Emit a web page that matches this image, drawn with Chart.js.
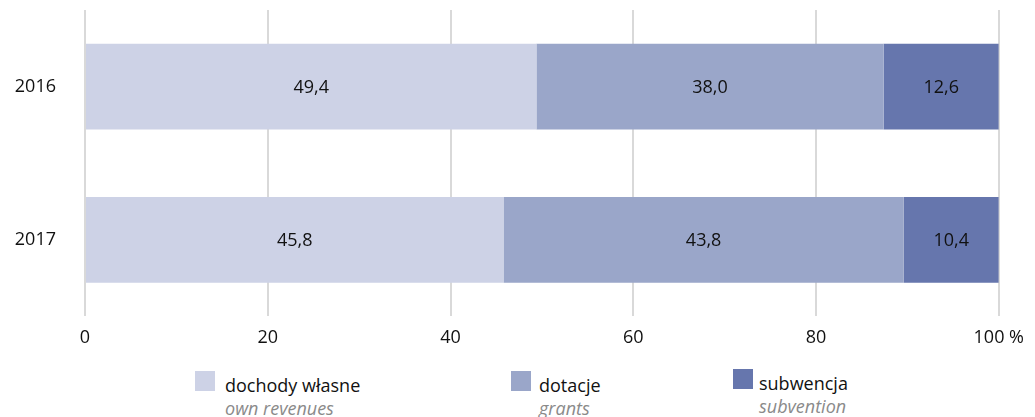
<!DOCTYPE html>
<html>
<head>
<meta charset="utf-8">
<script src="https://cdn.jsdelivr.net/npm/chart.js@4"></script>
<style>
  body { margin: 0; background: #fff; font-family: "Open Sans", sans-serif; }
  #wrap { position: relative; width: 1035px; height: 417px; }
  #chartBox { position: absolute; left: 0; top: 0; width: 1035px; height: 360px; }
  .leg { position: absolute; font-size: 18px; color: #111; line-height: 20px; }
  .leg .sw { position: absolute; left: 0; top: 0; width: 20px; height: 20px; }
  .leg .t { position: absolute; top: 4px; white-space: nowrap; }
  .leg .e { position: absolute; top: 27px; white-space: nowrap; font-style: italic; color: #8a8a8a; }
</style>
</head>
<body>
<div id="wrap">
  <div id="chartBox"><canvas id="bars"></canvas></div>
  <div id="legend"></div>
</div>
<script>
const years = ['2016', '2017']
const ownRevenues = [49.4, 45.8]
const grants = [38.0, 43.8]
const subvention = [12.6, 10.4]
const seriesNames = ['dochody własne', 'dotacje', 'subwencja']
const seriesNamesEn = ['own revenues', 'grants', 'subvention']
const seriesColors = ['#cdd2e6', '#9aa6c9', '#6676ad']
const xTicks = [0, 20, 40, 60, 80, 100]

// legend built by hand, the original has two-language entries
const legendPos = [[195, 371, 30], [511, 371, 28], [733, 369, 26]]
let legendHtml = ''
for (let i = 0; i < seriesNames.length; i++) {
  const [lx, ly, off] = legendPos[i]
  legendHtml += `<div class="leg" style="left:${lx}px;top:${ly}px">
    <div class="sw" style="background:${seriesColors[i]}"></div>
    <div class="t" style="left:${off}px">${seriesNames[i]}</div>
    <div class="e" style="left:${off}px">${seriesNamesEn[i]}</div>
  </div>`
}
document.getElementById('legend').innerHTML = legendHtml

const valueLabels = {
  id: 'valueLabels',
  afterDatasetsDraw(chart) {
    const ctx = chart.ctx
    ctx.save()
    ctx.font = '18px "Open Sans"'
    ctx.fillStyle = '#111'
    ctx.textAlign = 'center'
    ctx.textBaseline = 'middle'
    chart.data.datasets.forEach((ds, i) => {
      chart.getDatasetMeta(i).data.forEach((bar, j) => {
        const p = bar.getProps(['x', 'y', 'base'], true)
        ctx.fillText(ds.data[j].toFixed(1).replace('.', ','), (p.x + p.base) / 2, p.y + 1)
      })
    })
    ctx.restore()
  }
}

const barData = {
  labels: years,
  datasets: [ownRevenues, grants, subvention].map((d, i) => ({
    label: seriesNames[i],
    data: d,
    backgroundColor: seriesColors[i],
    borderWidth: 0,
    barPercentage: 0.56,
    categoryPercentage: 1
  }))
}

new Chart(document.getElementById('bars'), {
  type: 'bar',
  data: barData,
  options: {
    indexAxis: 'y',
    responsive: true,
    maintainAspectRatio: false,
    animation: false,
    layout: { padding: { top: 10, right: 36, bottom: 0, left: 0 } },
    scales: {
      x: {
        stacked: true,
        min: 0,
        max: 100,
        afterBuildTicks: (axis) => { axis.ticks = xTicks.map(v => ({ value: v })) },
        grid: { color: '#d9d9d9', lineWidth: 2, drawTicks: false },
        border: { display: false },
        ticks: {
          padding: 11,
          color: '#111',
          font: { family: 'Open Sans', size: 18 },
          callback: (v) => v == 100 ? '100 %' : v
        }
      },
      y: {
        stacked: true,
        grid: { display: false, drawTicks: false },
        border: { display: false },
        afterFit: (axis) => {
          axis.width = 85
          axis.paddingTop = 0
          axis.paddingBottom = 0
        },
        ticks: {
          padding: 29,
          color: '#111',
          font: { family: 'Open Sans', size: 18 }
        }
      }
    },
    plugins: {
      legend: { display: false },
      tooltip: { enabled: false }
    }
  },
  plugins: [valueLabels]
})
</script>
</body>
</html>
